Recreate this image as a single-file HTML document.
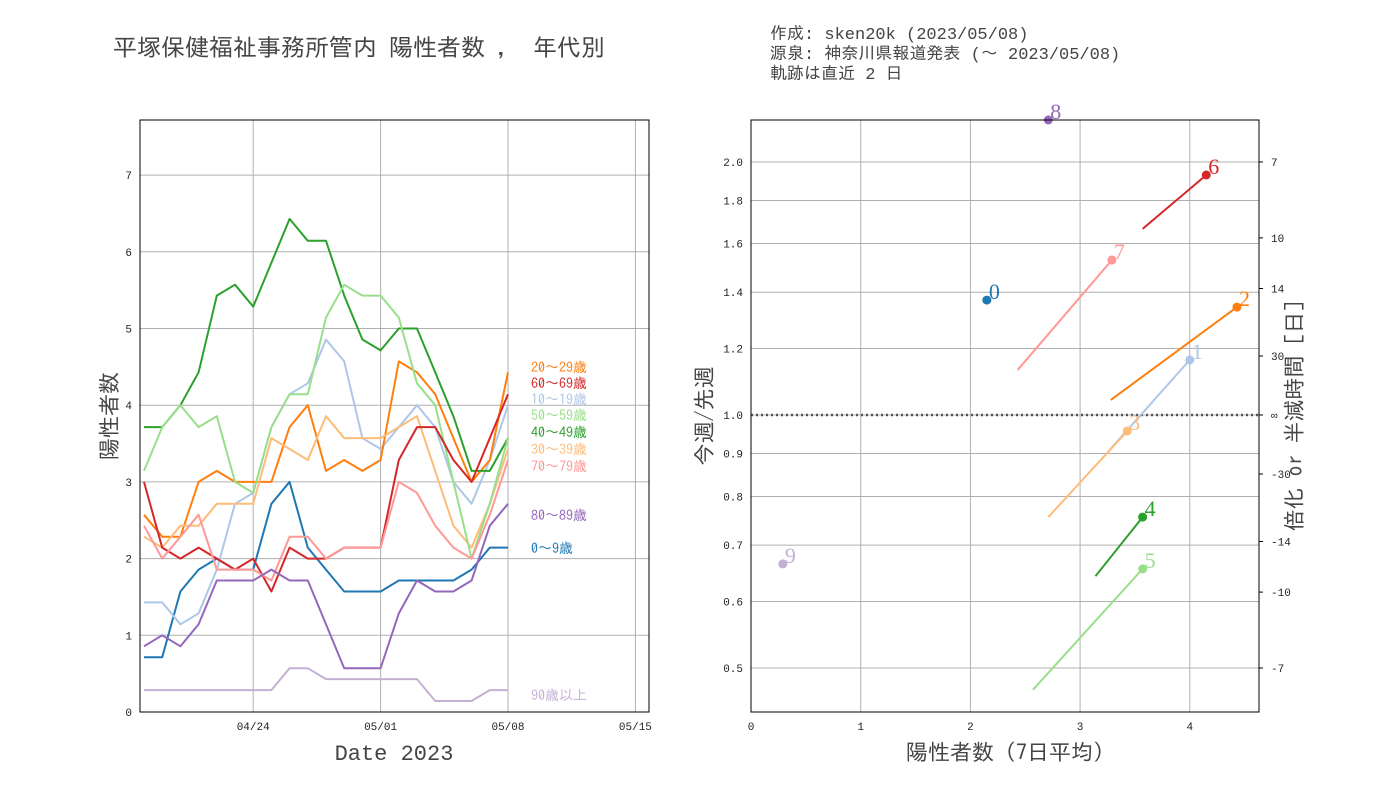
<!DOCTYPE html>
<html><head><meta charset="utf-8">
<style>
body{margin:0;background:#fff;}
svg{display:block;font-family:"Liberation Mono","IPAGothic",monospace;}
.t{font-family:"IPAGothic","Noto Sans CJK JP",sans-serif;}
</style></head>
<body>
<svg id="c" width="1400" height="800" viewBox="0 0 1400 800">
<text x="113" y="56" font-size="24" fill="#444" class="t">平塚保健福祉事務所管内 陽性者数 ， 年代別</text>
<text x="770" y="39" font-size="17" fill="#444">作成: sken20k (2023/05/08)</text>
<text x="770" y="59" font-size="17" fill="#444">源泉: 神奈川県報道発表 (～ 2023/05/08)</text>
<text x="770" y="79" font-size="17" fill="#444">軌跡は直近 2 日</text>
<g id="L"></g>
<g id="R"></g>
</svg>
<script>
const NS="http://www.w3.org/2000/svg";
const dayOffsets=[0,1,2,3,4,5,6,7,8,9,10,11,12,13,14,15,16,17,18,19,20];
const s0=[5,5,11,13,14,13,13,19,21,15,13,11,11,11,12,12,12,12,13,15,15];
const s10=[10,10,8,9,13,19,20,26,29,30,34,32,25,24,26,28,26,21,19,23,28];
const s20=[18,16,16,21,22,21,21,21,26,28,22,23,22,23,32,31,29,25,21,23,31];
const s30=[16,15,17,17,19,19,19,25,24,23,27,25,25,25,26,27,22,17,15,19,24];
const s40=[26,26,28,31,38,39,37,41,45,43,43,38,34,33,35,35,31,27,22,22,25];
const s50=[22,26,28,26,27,21,20,26,29,29,36,39,38,38,36,30,28,21,14,19,25];
const s60=[21,15,14,15,14,13,14,11,15,14,14,15,15,15,23,26,26,23,21,25,29];
const s70=[17,14,16,18,13,13,13,12,16,16,14,15,15,15,21,20,17,15,14,18,23];
const s80=[6,7,6,8,12,12,12,13,12,12,8,4,4,4,9,12,11,11,12,17,19];
const s90=[2,2,2,2,2,2,2,2,4,4,3,3,3,3,3,3,1,1,1,2,2];
const seriesNames=["0～9歳","10～19歳","20～29歳","30～39歳","40～49歳","50～59歳","60～69歳","70～79歳","80～89歳","90歳以上"];
const yTicksL=[0,1,2,3,4,5,6,7];
const xTickLabelsL=["04/24","05/01","05/08","05/15"];
const xTickDaysL=[6,13,20,27];
const rLabels=["0","1","2","3","4","5","6","7","8","9"];
const rX=[2.15,4.0,4.43,3.43,3.57,3.57,4.15,3.29,2.71,0.29];
const rY=[1.37,1.163,1.344,0.957,0.756,0.656,1.93,1.529,2.25,0.665];
const rX0=[2.15,3.27,3.28,2.71,3.14,2.57,3.57,2.43,2.71,0.29];
const rY0=[1.37,0.909,1.042,0.756,0.643,0.471,1.665,1.131,2.25,0.665];
const yTicksR=[0.5,0.6,0.7,0.8,0.9,1.0,1.2,1.4,1.6,1.8,2.0];
const xTicksR=[0,1,2,3,4];
const dblDays=["7","10","14","30","∞","-30","-14","-10","-7"];
const dblVals=[7,10,14,30,Infinity,-30,-14,-10,-7];

const colors=["#1f77b4","#aec7e8","#ff7f0e","#ffbb78","#2ca02c","#98df8a","#d62728","#ff9896","#9467bd","#c5b0d5"];
const allS=[s0,s10,s20,s30,s40,s50,s60,s70,s80,s90];

function el(p,tag,a,txt){const e=document.createElementNS(NS,tag);for(const k in a)e.setAttribute(k,a[k]);if(txt!==undefined)e.textContent=txt;p.appendChild(e);return e;}

const L=document.getElementById('L');
const lx0=140,lx1=649,ly0=120,ly1=712;
const xL=d=>144+d*18.2;
const yL=v=>712-v*76.7;
for(const v of yTicksL){
  const g=el(L,'line',{x1:lx0,x2:lx1,y1:yL(v),y2:yL(v),stroke:'#b0b0b0','stroke-width':1});
  
  
  const t=el(L,'text',{x:lx0-8,y:yL(v)+4,'font-size':11,'text-anchor':'end',fill:'#222'},String(v));
  
  
}
xTickDaysL.forEach((d,i)=>{
  const g=el(L,'line',{x1:xL(d),x2:xL(d),y1:ly0,y2:ly1,stroke:'#b0b0b0','stroke-width':1});
  
  
  const t=el(L,'text',{x:xL(d),y:ly1+18,'font-size':11,'text-anchor':'middle',fill:'#222'},xTickLabelsL[i]);
  
  
});
allS.forEach((s,i)=>{
  const pts=s.map((c,j)=>xL(dayOffsets[j]).toFixed(1)+','+yL(c/7).toFixed(1)).join(' ');
  const p=el(L,'polyline',{points:pts,fill:'none',stroke:colors[i],'stroke-width':2,'stroke-linejoin':'round'});
  
  
});
const labelY=[548,399,367,449,432,415,383,466,515,695];
seriesNames.forEach((n,i)=>{
  const t=el(L,'text',{x:531,y:labelY[i]+5,'font-size':14,fill:colors[i],class:'t'},n);
  
  
});
const fr=el(L,'rect',{x:lx0,y:ly0,width:lx1-lx0,height:ly1-ly0,fill:'none',stroke:'#000','stroke-width':1});


const xt=el(L,'text',{x:394,y:760,'font-size':22,'text-anchor':'middle',fill:'#444'},'Date 2023');


const yt=el(L,'text',{x:0,y:0,'font-size':22,'text-anchor':'middle',fill:'#444',class:'t',transform:'translate(117,416) rotate(-90)'},'陽性者数');



const R=document.getElementById('R');
const rx0=751,rx1=1259,ry0=120,ry1=712;
const xR=v=>751+v*109.7;
const yR=r=>415-Math.log(r)*365;
for(const v of yTicksR){
  const g=el(R,'line',{x1:rx0,x2:rx1,y1:yR(v),y2:yR(v),stroke:'#b0b0b0','stroke-width':1});
  
  
  const t=el(R,'text',{x:rx0-8,y:yR(v)+4,'font-size':11,'text-anchor':'end',fill:'#222'},v.toFixed(1));
  
  
}
for(const v of xTicksR){
  const g=el(R,'line',{x1:xR(v),x2:xR(v),y1:ry0,y2:ry1,stroke:'#b0b0b0','stroke-width':1});
  
  
  const t=el(R,'text',{x:xR(v),y:ry1+18,'font-size':11,'text-anchor':'middle',fill:'#222'},String(v));
  
  
}
const ref=el(R,'line',{x1:rx0,x2:rx1,y1:yR(1),y2:yR(1),stroke:'#555','stroke-width':2.5,'stroke-dasharray':'2,3'});


dblVals.forEach((d,i)=>{
  const r=isFinite(d)?Math.pow(2,7/d):1;
  const y=yR(r);
  const tk=el(R,'line',{x1:rx1,x2:rx1+4,y1:y,y2:y,stroke:'#000'});
  
  
  const t=el(R,'text',{x:rx1+12,y:y+4,'font-size':11,fill:'#222'},dblDays[i]);
  
  
});
rLabels.forEach((n,i)=>{
  const cy=Math.max(yR(rY[i]),ry0);
  if(rX0[i]!==rX[i]||rY0[i]!==rY[i]){
    const ln=el(R,'line',{x1:xR(rX0[i]),y1:yR(rY0[i]),x2:xR(rX[i]),y2:cy,stroke:colors[i],'stroke-width':2});
    
    
  }
  const c=el(R,'circle',{cx:xR(rX[i]),cy:cy,r:4.5,fill:colors[i]});
  
  
  const t=el(R,'text',{x:xR(rX[i])+2,y:cy-1,'font-size':22,fill:colors[i],'font-family':'Liberation Serif,serif'},n);
  
  
});
const fr2=el(R,'rect',{x:rx0,y:ry0,width:rx1-rx0,height:ry1-ry0,fill:'none',stroke:'#000','stroke-width':1});


const xt2=el(R,'text',{x:1005,y:760,'font-size':22,'text-anchor':'middle',fill:'#444',class:'t'},'陽性者数 (7日平均)');


const yt2=el(R,'text',{x:0,y:0,'font-size':22,'text-anchor':'middle',fill:'#444',class:'t',transform:'translate(712,416) rotate(-90)'},'今週/先週');


const yt3=el(R,'text',{x:0,y:0,'font-size':22,'text-anchor':'middle',fill:'#444',class:'t',transform:'translate(1302,416) rotate(-90)'},'倍化 or 半減時間 [日]');


</script>
</body></html>
